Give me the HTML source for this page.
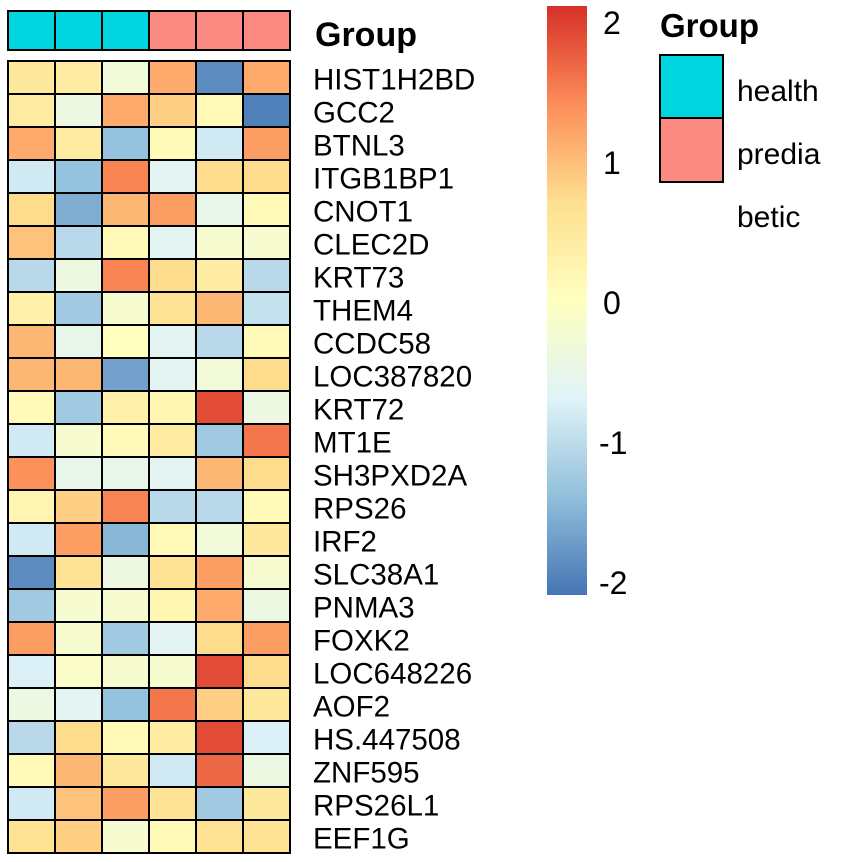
<!DOCTYPE html>
<html><head><meta charset="utf-8"><style>
html,body{margin:0;padding:0;background:#fff;}
svg{display:block;font-family:"Liberation Sans",Arial,sans-serif;}
</style></head><body>
<svg id="chart" width="851" height="862">
<defs><linearGradient id="cbg" x1="0" y1="1" x2="0" y2="0">
<stop offset="0" stop-color="#4575B4"/><stop offset="0.1667" stop-color="#91BFDB"/><stop offset="0.3333" stop-color="#E0F3F8"/><stop offset="0.5" stop-color="#FFFFBF"/><stop offset="0.6667" stop-color="#FEE090"/><stop offset="0.8333" stop-color="#FC8D59"/><stop offset="1" stop-color="#D73027"/></linearGradient></defs>
<g id="groupbar"></g>
<g id="cells"></g>
<g id="labels"></g>
<text x="315" y="46" font-size="34" font-weight="bold">Group</text>
<rect x="547" y="6" width="40" height="589" fill="url(#cbg)"/>
<g id="cbticks" font-size="32"></g>
<g>
<text x="660" y="37" font-size="33" font-weight="bold">Group</text>
<rect x="660" y="55" width="63" height="63" fill="#00D5DF" stroke="#000" stroke-width="2"/>
<rect x="660" y="118" width="63" height="64" fill="#FA8A82" stroke="#000" stroke-width="2"/>
<text x="737" y="101" font-size="30">health</text>
<text x="737" y="164" font-size="30">predia</text>
<text x="737" y="227" font-size="30">betic</text>
</g>
</svg>
<script>
const genes=["HIST1H2BD","GCC2","BTNL3","ITGB1BP1","CNOT1","CLEC2D","KRT73","THEM4","CCDC58","LOC387820","KRT72","MT1E","SH3PXD2A","RPS26","IRF2","SLC38A1","PNMA3","FOXK2","LOC648226","AOF2","HS.447508","ZNF595","RPS26L1","EEF1G"];
const groups=["health","health","health","prediabetic","prediabetic","prediabetic"];
const values=[
[0.5,0.4,-0.3,1.1,-1.8,1.1],
[0.4,-0.4,1.1,0.8,0.1,-1.9],
[1.1,0.4,-1.3,0.1,-0.8,1.2],
[-0.8,-1.3,1.4,-0.6,0.7,0.7],
[0.7,-1.5,1.0,1.2,-0.5,0.1],
[0.9,-1.0,0.1,-0.6,-0.2,-0.2],
[-1.0,-0.4,1.4,0.7,0.4,-1.0],
[0.3,-1.2,-0.2,0.6,1.0,-0.9],
[1.0,-0.5,0.0,-0.6,-1.0,0.1],
[1.0,1.0,-1.6,-0.6,-0.3,0.7],
[0.1,-1.2,0.3,0.2,1.8,-0.4],
[-0.8,-0.2,0.1,0.4,-1.2,1.5],
[1.3,-0.5,-0.5,-0.6,1.0,0.7],
[0.2,0.8,1.4,-1.0,-1.0,0.1],
[-0.8,1.2,-1.4,0.1,-0.3,0.5],
[-1.8,0.6,-0.4,0.6,1.2,-0.2],
[-1.2,-0.2,-0.2,0.2,1.1,-0.4],
[1.2,-0.2,-1.2,-0.6,0.7,1.2],
[-0.7,-0.1,-0.2,-0.2,1.8,0.7],
[-0.4,-0.6,-1.3,1.5,0.8,0.5],
[-1.0,0.7,0.1,0.4,1.8,-0.7],
[0.1,1.0,0.5,-0.8,1.6,-0.4],
[-0.8,0.9,1.2,0.6,-1.2,0.5],
[0.6,0.8,-0.2,0.1,0.6,0.6]];
const cbTicks=[2,1,0,-1,-2];
const NS="http://www.w3.org/2000/svg";
const pal=["#4575B4","#91BFDB","#E0F3F8","#FFFFBF","#FEE090","#FC8D59","#D73027"];
function hex(h){return [1,3,5].map(i=>parseInt(h.substr(i,2),16));}
function color(v){let t=(Math.max(-2,Math.min(2,v))+2)/4*6;let i=Math.min(5,Math.floor(t));let f=t-i;let a=hex(pal[i]),b=hex(pal[i+1]);return "rgb("+a.map((x,k)=>Math.round(x+(b[k]-x)*f)).join(",")+")";}
const x0=8,cw=47,y0=61,rh=33;
function xPos(j){return x0+j*cw;}
function yPos(i){return y0+i*rh;}
function cbY(v){return 302-v*140;}
function mk(tag,attrs,parent){const e=document.createElementNS(NS,tag);for(const k in attrs)e.setAttribute(k,attrs[k]);parent.appendChild(e);return e;}
const gb=document.getElementById("groupbar");
groups.forEach((g,j)=>{const r=mk("rect",{x:xPos(j),y:11,width:cw,height:39,fill:g==="health"?"#00D5DF":"#FA8A82",stroke:"#000","stroke-width":2},gb);

});
const cells=document.getElementById("cells");
values.forEach((row,i)=>row.forEach((v,j)=>{const r=mk("rect",{x:xPos(j),y:yPos(i),width:cw,height:rh,fill:color(v),stroke:"#000","stroke-width":2},cells);

}));
const lb=document.getElementById("labels");
genes.forEach((g,i)=>{const t=mk("text",{x:313,y:yPos(i)+rh/2+12,"font-size":29.5},lb);t.textContent=g;

});
const cb=document.getElementById("cbticks");
cbTicks.forEach(v=>{const t=mk("text",{x:v<0?599:603,y:cbY(v)+12},cb);t.textContent=v<0?"-"+Math.abs(v):String(v);

});
</script>
</body></html>
